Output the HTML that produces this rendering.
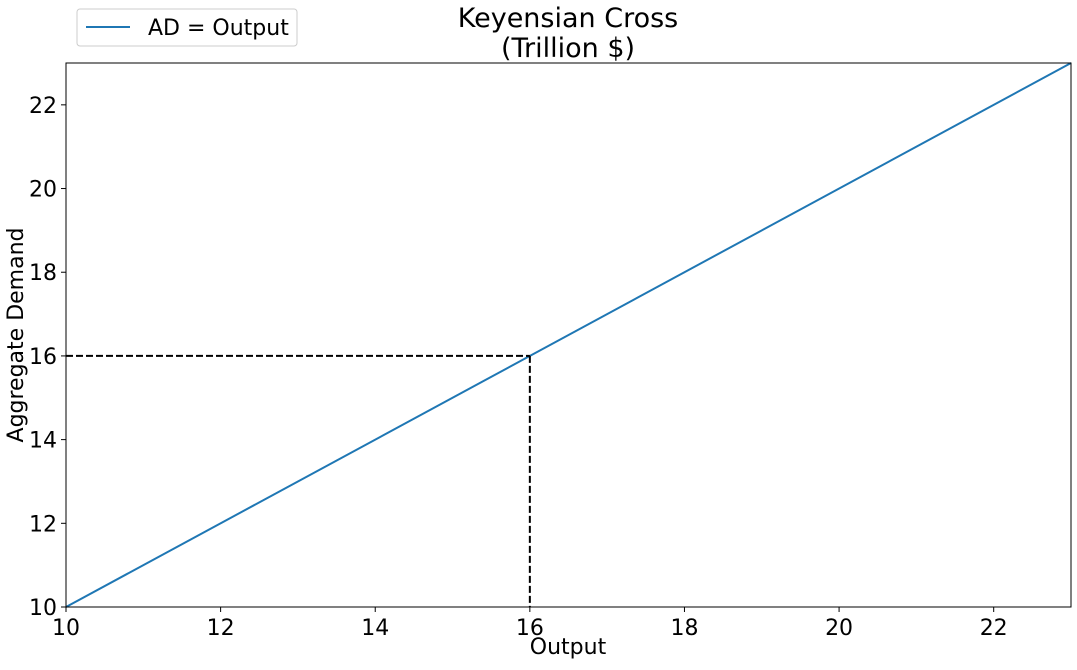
<!DOCTYPE html>
<html><head><meta charset="utf-8"><style>
body{margin:0;background:#fff;}
svg text{font-family:"DejaVu Sans","Liberation Sans",sans-serif;fill:#000;}
</style></head><body>
<svg id="chart" width="1077" height="665" xmlns="http://www.w3.org/2000/svg">
<text x="568" y="27" font-size="27" text-anchor="middle">Keyensian Cross</text>
<text x="568" y="57" font-size="27" text-anchor="middle">(Trillion $)</text>
<g id="plot"></g>
<text x="568" y="654" font-size="22" text-anchor="middle">Output</text>
<text transform="translate(23,335) rotate(-90)" font-size="22" text-anchor="middle">Aggregate Demand</text>
<g>
<rect x="77" y="9" width="220" height="37" rx="3" fill="#fff" stroke="#ccc"/>
<line x1="86" y1="27" x2="130" y2="27" stroke="#1f77b4" stroke-width="2"/>
<text x="148" y="35" font-size="22">AD = Output</text>
</g>
</svg>
<script>
const xTicks=[10,12,14,16,18,20,22];
const yTicks=[10,12,14,16,18,20,22];
const lineX=[10,23];
const lineY=[10,23];
const eqX=[16];
const eqY=[16];
const L=66,R=1071,T=63,B=607,x0=10,x1=23,y0=10,y1=23;
const sx=v=>L+(v-x0)/(x1-x0)*(R-L);
const sy=v=>B-(v-y0)/(y1-y0)*(B-T);
const g=document.getElementById('plot');
const NS='http://www.w3.org/2000/svg';
function mk(t,a){const e=document.createElementNS(NS,t);for(const k in a)e.setAttribute(k,a[k]);g.appendChild(e);return e;}
xTicks.forEach(v=>{
const l=mk('line',{x1:sx(v),x2:sx(v),y1:B,y2:B+5,stroke:'#000'});


const t=mk('text',{x:sx(v),y:B+28,'font-size':22,'text-anchor':'middle'});t.textContent=v;


});
yTicks.forEach(v=>{
const l=mk('line',{x1:L-5,x2:L,y1:sy(v),y2:sy(v),stroke:'#000'});


const t=mk('text',{x:L-9,y:sy(v)+8,'font-size':22,'text-anchor':'end'});t.textContent=v;


});
const ln=mk('polyline',{points:lineX.map((x,i)=>sx(x)+','+sy(lineY[i])).join(' '),fill:'none',stroke:'#1f77b4','stroke-width':2});


const h=mk('line',{x1:L,x2:sx(eqX[0]),y1:sy(eqY[0]),y2:sy(eqY[0]),stroke:'#000','stroke-width':2,'stroke-dasharray':'7,3'});


const v=mk('line',{x1:sx(eqX[0]),x2:sx(eqX[0]),y1:sy(eqY[0]),y2:B,stroke:'#000','stroke-width':2,'stroke-dasharray':'7,3'});


const f=mk('rect',{x:L,y:T,width:R-L,height:B-T,fill:'none',stroke:'#000','stroke-width':1});


</script>
</body></html>
